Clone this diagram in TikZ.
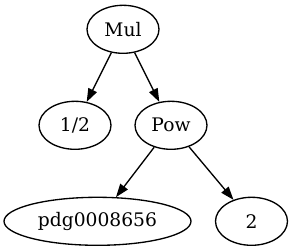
\documentclass[tikz,border=0pt]{standalone}
\usepackage{fontspec}
\setmainfont{DejaVu Serif}
\usetikzlibrary{shapes.geometric,arrows.meta}
\begin{document}
\begin{tikzpicture}[x=1pt,y=-1pt,
  nd/.style={ellipse,draw,line width=1.33pt,minimum height=48pt,minimum width=72pt,inner sep=0pt,font=\fontsize{18.67}{22}\selectfont},
  ed/.style={line width=1.33pt,-{Triangle[length=13.3pt,width=9.3pt]}}]
\useasboundingbox (0,0) rectangle (293,251);
\node[nd] (mul) at (123,29.3) {Mul};
\node[nd] (half) at (75,125.3) {1/2};
\node[nd] (pow) at (171,125.3) {Pow};
\node[nd,minimum width=187pt] (pdg) at (97.5,221.3) {pdg0008656};
\node[nd] (two) at (251.5,221.3) {2};
\draw[ed] (mul) -- (half);
\draw[ed] (mul) -- (pow);
\draw[ed] (pow) -- (pdg);
\draw[ed] (pow) -- (two);
\end{tikzpicture}
\end{document}
